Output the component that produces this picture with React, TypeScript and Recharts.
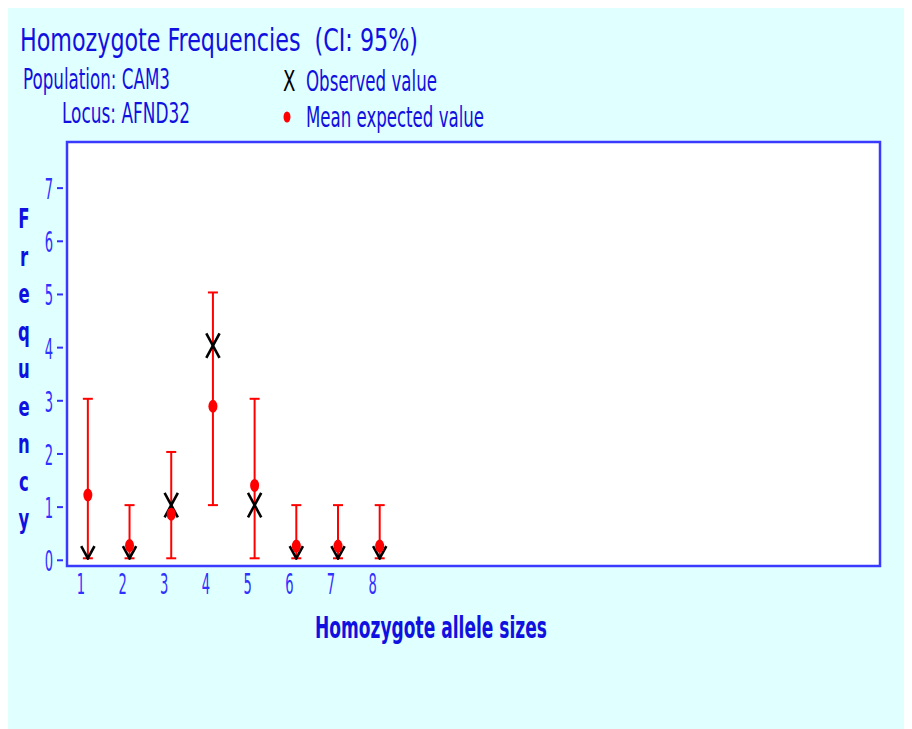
import React from "react";
import {
  ScatterChart,
  Scatter,
  XAxis,
  YAxis,
  ErrorBar,
  CartesianGrid,
  ReferenceArea,
} from "recharts";

// Homozygote allele size classes
const alleleSizes = [1, 2, 3, 4, 5, 6, 7, 8];
// Observed homozygote counts
const observedValues = [0, 0, 1, 4, 1, 0, 0, 0];
// Mean expected counts
const meanExpected = [1.19, 0.24, 0.83, 2.86, 1.37, 0.23, 0.23, 0.23];
// 95% confidence interval bounds
const ciLower = [0, 0, 0, 1, 0, 0, 0, 0];
const ciUpper = [3, 1, 2, 5, 3, 1, 1, 1];
const yTicks = [0, 1, 2, 3, 4, 5, 6, 7];
const yLabelLetters = ["F", "r", "e", "q", "u", "e", "n", "c", "y"];

const rows = alleleSizes.map((size, i) => ({
  size,
  observed: observedValues[i],
  mean: meanExpected[i],
  ci: [meanExpected[i] - ciLower[i], ciUpper[i] - meanExpected[i]],
}));

const BLUE = "#1010e0";
const TICK_BLUE = "#3030ff";
const RED = "#ff0000";
const FONT = "'DejaVu Sans Condensed', 'DejaVu Sans', sans-serif";

// Narrow, tall text: horizontally squeezed around its anchor point
const Narrow = ({ x, y, size, sx, anchor = "start", weight = "normal", fill = BLUE, children }: any) => (
  <text
    transform={`translate(${x},${y}) scale(${sx},1)`}
    textAnchor={anchor}
    fontSize={size}
    fontWeight={weight}
    fontFamily={FONT}
    fill={fill}
  >
    {children}
  </text>
);

// Text squeezed to a fixed width
const Fitted = ({ x, y, size, width, weight = "normal", fill = BLUE, children }: any) => (
  <text
    x={x}
    y={y}
    fontSize={size}
    fontWeight={weight}
    fontFamily={FONT}
    fill={fill}
    textLength={width}
    lengthAdjust="spacingAndGlyphs"
    style={{ whiteSpace: "pre" }}
  >
    {children}
  </text>
);

const Empty = () => <g />;

const ObservedMark = (props: any) => {
  const { cx, cy, payload } = props;
  const w = 6;
  const h = 11;
  // Marks sitting on zero are cut at the baseline
  const bottom = payload.observed === 0 ? 0 : h;
  const k = bottom / h;
  return (
    <g stroke="#000" strokeWidth={2.6} fill="none" strokeLinecap="square">
      <line x1={cx - w} y1={cy - h} x2={cx + w * k} y2={cy + bottom} />
      <line x1={cx + w} y1={cy - h} x2={cx - w * k} y2={cy + bottom} />
    </g>
  );
};

const MeanMark = (props: any) => {
  const { cx, cy } = props;
  return <ellipse cx={cx} cy={cy} rx={4.5} ry={6.5} fill={RED} />;
};

const YTick = (props: any) => {
  const { x, y, payload } = props;
  return (
    <g>
      <Narrow x={x - 14} y={y + 13} size={28} sx={0.52} anchor="end" fill={TICK_BLUE}>
        {payload.value}
      </Narrow>
      <line x1={x - 10} x2={x - 4} y1={y + 2} y2={y + 2} stroke={TICK_BLUE} strokeWidth={2} />
    </g>
  );
};

const XTick = (props: any) => {
  const { x, y, payload } = props;
  return (
    <Narrow x={x - 7} y={y + 28} size={28} sx={0.52} anchor="middle" fill={TICK_BLUE}>
      {payload.value}
    </Narrow>
  );
};

const X_DOMAIN: [number, number] = [0.5, 20];
const Y_DOMAIN: [number, number] = [-0.145, 7.83];

export default function App() {
  return (
    <div style={{ position: "relative", width: 904, height: 721, background: "#e0ffff" }}>
      <div style={{ position: "absolute", left: 0, top: 0 }}>
        <ScatterChart
          width={904}
          height={721}
          margin={{ top: 134, right: 32, bottom: 123, left: 0 }}
        >
          <CartesianGrid fill="#ffffff" horizontal={false} vertical={false} />
          <XAxis
            type="number"
            dataKey="size"
            domain={X_DOMAIN}
            ticks={alleleSizes}
            allowDataOverflow
            height={40}
            axisLine={false}
            tickLine={false}
            tick={<XTick />}
            tickSize={0}
            tickMargin={0}
            interval={0}
          />
          <YAxis
            type="number"
            domain={Y_DOMAIN}
            ticks={yTicks}
            allowDataOverflow
            width={59}
            axisLine={false}
            tickLine={false}
            tick={<YTick />}
            tickSize={0}
            tickMargin={0}
            interval={0}
          />
          <ReferenceArea
            x1={X_DOMAIN[0]}
            x2={X_DOMAIN[1]}
            y1={Y_DOMAIN[0]}
            y2={Y_DOMAIN[1]}
            fill="none"
            stroke="#3a3aff"
            strokeWidth={2.5}
            ifOverflow="visible"
          />
          <Scatter data={rows} dataKey="mean" shape={<Empty />} isAnimationActive={false}>
            <ErrorBar dataKey="ci" direction="y" width={5} stroke={RED} strokeWidth={2} isAnimationActive={false} />
          </Scatter>
          <Scatter data={rows} dataKey="observed" shape={<ObservedMark />} isAnimationActive={false} />
          <Scatter data={rows} dataKey="mean" shape={<MeanMark />} isAnimationActive={false} />
        </ScatterChart>
      </div>
      <svg
        width={904}
        height={721}
        style={{ position: "absolute", left: 0, top: 0, pointerEvents: "none" }}
      >
        <Fitted x={12} y={43} size={32} width={398}>
          {"Homozygote Frequencies  (CI: 95%)"}
        </Fitted>
        <Fitted x={15} y={81} size={28} width={147}>
          Population: CAM3
        </Fitted>
        <Fitted x={54} y={115} size={28} width={128}>
          Locus: AFND32
        </Fitted>
        <Narrow x={275} y={83} size={28} sx={0.72} fill="#000">
          X
        </Narrow>
        <Fitted x={298} y={83} size={28} width={131}>
          Observed value
        </Fitted>
        <ellipse cx={279} cy={109} rx={3.5} ry={5.5} fill={RED} />
        <Fitted x={298} y={119} size={28} width={178}>
          Mean expected value
        </Fitted>
        {yLabelLetters.map((ch, i) => (
          <Narrow key={i} x={16} y={220 + i * 37.5} size={27} sx={0.68} anchor="middle" weight="bold">
            {ch}
          </Narrow>
        ))}
        <Fitted x={307} y={630} size={30} width={232} weight="bold">
          Homozygote allele sizes
        </Fitted>
      </svg>
    </div>
  );
}
